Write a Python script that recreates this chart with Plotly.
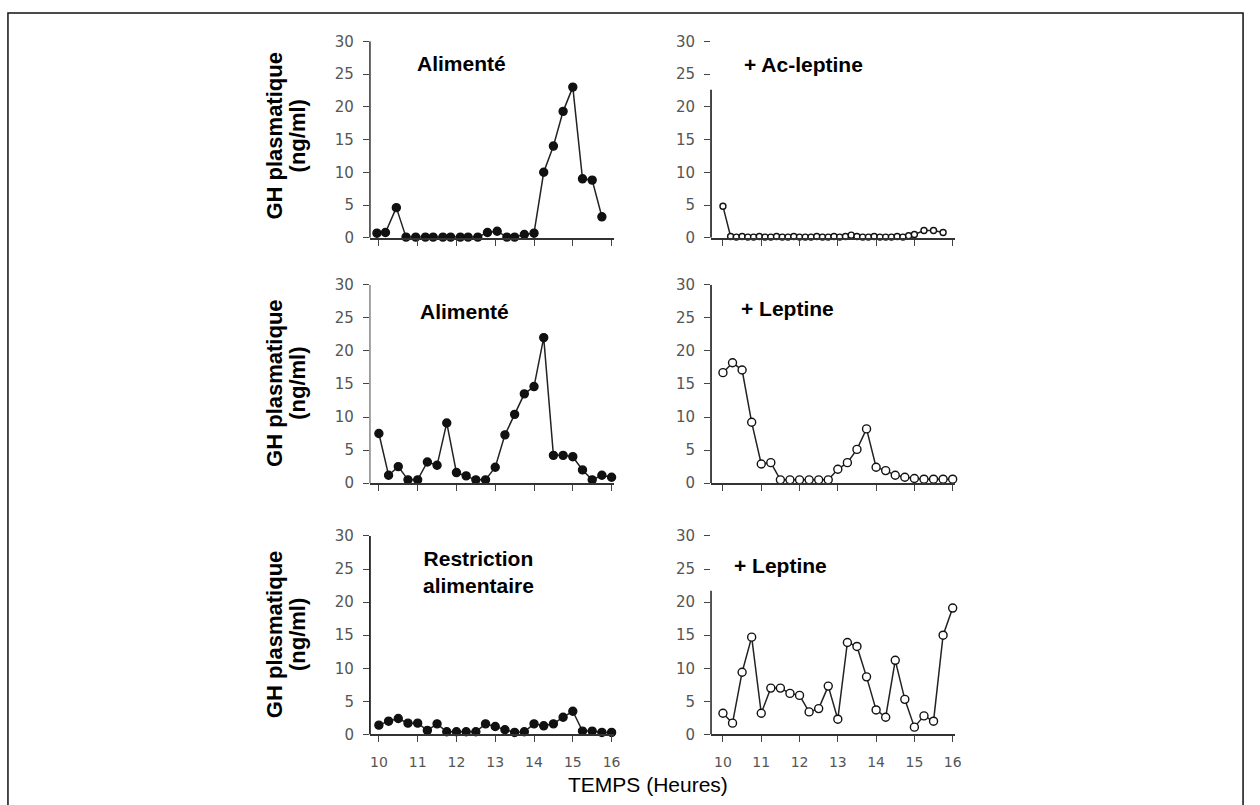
import plotly.graph_objects as go

# ---------------- data ----------------
tick_hours = [10, 11, 12, 13, 14, 15, 16]
tick_hour_labels = ["10", "11", "12", "13", "14", "15", "16"]
gh_ticks = [0, 5, 10, 15, 20, 25, 30]

times_std = [10.0, 10.25, 10.5, 10.75, 11.0, 11.25, 11.5, 11.75, 12.0, 12.25, 12.5, 12.75,
             13.0, 13.25, 13.5, 13.75, 14.0, 14.25, 14.5, 14.75, 15.0, 15.25, 15.5, 15.75, 16.0]

# Top-left: Alimenté
times_fed1 = [9.95, 10.17, 10.45, 10.7, 10.95, 11.2, 11.4, 11.65, 11.85, 12.1, 12.3, 12.55,
              12.8, 13.05, 13.3, 13.5, 13.75, 14.0, 14.25, 14.5, 14.75, 15.0, 15.25, 15.5, 15.75]
gh_fed1 = [0.7, 0.8, 4.6, 0.1, 0.1, 0.1, 0.1, 0.1, 0.1, 0.1, 0.1, 0.1,
           0.8, 1.0, 0.1, 0.1, 0.5, 0.7, 10.0, 14.0, 19.3, 23.0, 9.0, 8.8, 3.2]

# Top-right: + Ac-leptine
times_acl = [10.0, 10.2, 10.35, 10.5, 10.65, 10.8, 10.95, 11.1, 11.25, 11.4, 11.55, 11.7,
             11.85, 12.0, 12.15, 12.3, 12.45, 12.6, 12.75, 12.9, 13.05, 13.2, 13.35, 13.5,
             13.65, 13.8, 13.95, 14.1, 14.25, 14.4, 14.55, 14.7, 14.85, 15.0, 15.25, 15.5, 15.75]
gh_acl = [4.8, 0.2, 0.1, 0.2, 0.1, 0.1, 0.2, 0.1, 0.1, 0.2, 0.1, 0.1,
          0.2, 0.1, 0.1, 0.1, 0.2, 0.1, 0.1, 0.2, 0.1, 0.2, 0.4, 0.2,
          0.1, 0.1, 0.2, 0.1, 0.1, 0.1, 0.2, 0.1, 0.3, 0.5, 1.1, 1.1, 0.8]

# Middle-left: Alimenté
gh_fed2 = [7.5, 1.2, 2.5, 0.5, 0.5, 3.2, 2.7, 9.1, 1.6, 1.1, 0.5, 0.5,
           2.4, 7.3, 10.4, 13.5, 14.6, 22.0, 4.2, 4.2, 4.0, 2.0, 0.5, 1.2, 0.9]

# Middle-right: + Leptine
gh_lep2 = [16.7, 18.2, 17.1, 9.2, 2.9, 3.1, 0.5, 0.5, 0.5, 0.5, 0.5, 0.5,
           2.1, 3.1, 5.1, 8.2, 2.4, 1.9, 1.2, 0.9, 0.7, 0.6, 0.6, 0.6, 0.6]

# Bottom-left: Restriction alimentaire
gh_restr = [1.4, 2.0, 2.4, 1.7, 1.7, 0.6, 1.6, 0.4, 0.4, 0.4, 0.4, 1.6,
            1.2, 0.7, 0.3, 0.4, 1.6, 1.3, 1.6, 2.6, 3.5, 0.5, 0.5, 0.3, 0.3]

# Bottom-right: + Leptine
gh_lep3 = [3.2, 1.7, 9.4, 14.7, 3.2, 7.0, 7.0, 6.2, 5.9, 3.4, 3.9, 7.3,
           2.3, 13.9, 13.3, 8.7, 3.7, 2.6, 11.2, 5.3, 1.1, 2.8, 2.0, 15.0, 19.1]

panel_titles = ["Alimenté", "+ Ac-leptine", "Alimenté", "+ Leptine",
                "Restriction<br>alimentaire", "+ Leptine"]
y_title_line1 = "GH plasmatique"
y_title_line2 = "(ng/ml)"
x_title = "TEMPS (Heures)"

# ---------------- layout helpers ----------------
W, H = 1260, 805


def px(x):
    return x / W


def py(y):
    return 1 - y / H


col_dom = {"L": [px(372), px(617)], "R": [px(715), px(960)]}
col_rng = {"L": [10 - 9 / 39.0, 16 + 2 / 39.0], "R": [10 - 12 / 38.5, 16 + 2 / 38.5]}
row_dom = {0: [py(234), py(33)], 1: [py(485), py(282)], 2: [py(742), py(539)]}

panels = [
    # (col, row, times, values, filled, yaxis line top, y-line colour, marker size)
    ("L", 0, times_fed1, gh_fed1, True, 30, "#555", 8),
    ("R", 0, times_acl, gh_acl, False, 22.6, "#333", 6),
    ("L", 1, times_std, gh_fed2, True, 30, "#999", 8),
    ("R", 1, times_std, gh_lep2, False, 30, "#333", 8),
    ("L", 2, times_std, gh_restr, True, 30, "#222", 8),
    ("R", 2, times_std, gh_lep3, False, 21.7, "#444", 8),
]

fig = go.Figure()
shapes = []
y_tick_font = dict(family="DejaVu Sans", size=15, color="#555")
x_tick_font = dict(family="DejaVu Sans", size=14, color="#555")

for i, (col, row, tx, vy, filled, ytop, ycol, msize) in enumerate(panels, start=1):
    xa = "x" if i == 1 else f"x{i}"
    ya = "y" if i == 1 else f"y{i}"
    fig.add_trace(go.Scatter(
        x=tx, y=vy, xaxis=xa, yaxis=ya, mode="lines+markers",
        line=dict(color="#222", width=1.5),
        marker=dict(symbol="circle", size=msize,
                    color="#111" if filled else "white",
                    line=dict(color="#111", width=1.4)),
        cliponaxis=False, showlegend=False, hoverinfo="skip"))
    xkey = "xaxis" if i == 1 else f"xaxis{i}"
    ykey = "yaxis" if i == 1 else f"yaxis{i}"
    fig.update_layout(**{
        xkey: dict(domain=col_dom[col], range=col_rng[col], anchor=ya,
                   showline=True, linecolor="#333", linewidth=1.5,
                   ticks="outside", ticklen=6, tickwidth=1.2, tickcolor="#444",
                   tickvals=tick_hours, ticktext=tick_hour_labels,
                   showticklabels=(row == 2), tickfont=x_tick_font,
                   ticklabelstandoff=8,
                   showgrid=False, zeroline=False, fixedrange=True),
        ykey: dict(domain=row_dom[row], range=[0, 30], anchor=xa,
                   showline=False, ticks="outside", ticklen=6, tickwidth=1.2,
                   tickcolor="#444", tickvals=gh_ticks, tickfont=y_tick_font,
                   ticklabelstandoff=6,
                   showgrid=False, zeroline=False, fixedrange=True),
    })
    shapes.append(dict(type="line", xref=f"{xa} domain", yref=ya,
                       x0=0, x1=0, y0=0, y1=ytop,
                       line=dict(color=ycol, width=1.8)))

# outer frame
shapes.append(dict(type="rect", xref="paper", yref="paper",
                   x0=px(8), x1=px(1250), y0=-0.02, y1=py(4),
                   line=dict(color="#111", width=1.5), fillcolor="rgba(0,0,0,0)"))

annotations = []
title_pos = [(464, 56), (808, 57), (467, 309), (792, 306), (481, 576), (785, 569)]
for (tx_, ty_), t in zip(title_pos, panel_titles):
    annotations.append(dict(x=px(tx_), y=py(ty_), xref="paper", yref="paper",
                            text=f"<b>{t}</b>", showarrow=False,
                            xanchor="center", yanchor="middle",
                            font=dict(family="Arial, Liberation Sans", size=21, color="#000")))

for yc in [130, 383, 640]:
    annotations.append(dict(x=px(276), y=py(yc), xref="paper", yref="paper",
                            text=f"<b>{y_title_line1}</b>", showarrow=False, textangle=-90,
                            xanchor="center", yanchor="middle",
                            font=dict(family="Arial, Liberation Sans", size=22, color="#000")))
    annotations.append(dict(x=px(299), y=py(yc), xref="paper", yref="paper",
                            text=f"<b>{y_title_line2}</b>", showarrow=False, textangle=-90,
                            xanchor="center", yanchor="middle",
                            font=dict(family="Arial, Liberation Sans", size=22, color="#000")))

annotations.append(dict(x=px(652), y=py(793), xref="paper", yref="paper",
                        text=x_title, showarrow=False, xanchor="center", yanchor="middle",
                        font=dict(family="Arial, Liberation Sans", size=21, color="#000")))

fig.update_layout(width=W, height=H, margin=dict(l=0, r=0, t=0, b=0),
                  paper_bgcolor="white", plot_bgcolor="white",
                  shapes=shapes, annotations=annotations, showlegend=False)

fig.write_html("out.html", config={"displayModeBar": False},
               post_script="document.body.style.margin='0';")
